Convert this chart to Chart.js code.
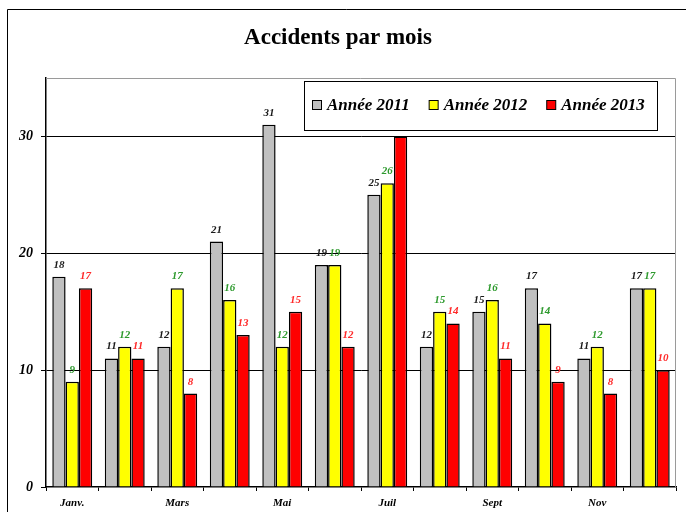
<!DOCTYPE html>
<html>
<head>
<meta charset="utf-8">
<script src="https://cdn.jsdelivr.net/npm/chart.js@4/dist/chart.umd.min.js"></script>
<style>
  html, body { margin: 0; padding: 0; background: #fff; }
  #c { display: block; }
</style>
</head>
<body>
<canvas id="c" width="686" height="512"></canvas>
<script>
const months = ['Janv.', 'Févr.', 'Mars', 'Avr.', 'Mai', 'Juin', 'Juil', 'Août', 'Sept', 'Oct', 'Nov', 'Déc.'];
const seriesNames = ['Année 2011', 'Année 2012', 'Année 2013'];
const values2011 = [18, 11, 12, 21, 31, 19, 25, 12, 15, 17, 11, 17];
const values2012 = [9, 12, 17, 16, 12, 19, 26, 15, 16, 14, 12, 17];
const values2013 = [17, 11, 8, 13, 15, 12, 30, 14, 11, 9, 8, 10];
const yTicks = [0, 10, 20, 30];

const FONT = "'Liberation Serif', 'Times New Roman', serif";
const fillColors = ['#c0c0c0', '#ffff00', '#ff0000'];
const labelColors = ['#1a1a1a', '#2e9a2e', '#ff2a2a'];

const framePlugin = {
  id: 'frame',
  beforeDraw(chart) {
    const ctx = chart.ctx;
    ctx.save();
    ctx.fillStyle = '#fff';
    ctx.fillRect(0, 0, chart.width, chart.height);
    ctx.strokeStyle = '#000';
    ctx.lineWidth = 1;
    ctx.beginPath();
    ctx.moveTo(7.5, chart.height);
    ctx.lineTo(7.5, 9.5);
    ctx.lineTo(chart.width, 9.5);
    ctx.stroke();
    ctx.restore();
  },
  beforeDatasetsDraw(chart) {
    const a = chart.chartArea;
    const ctx = chart.ctx;
    ctx.save();
    ctx.strokeStyle = '#9a9a9a';
    ctx.lineWidth = 1;
    ctx.beginPath();
    ctx.moveTo(a.left, a.top + 0.5);
    ctx.lineTo(a.right - 0.5, a.top + 0.5);
    ctx.lineTo(a.right - 0.5, a.bottom);
    ctx.stroke();
    ctx.restore();
  }
};

const valueLabelPlugin = {
  id: 'valueLabels',
  afterDatasetsDraw(chart) {
    const ctx = chart.ctx;
    ctx.save();
    ctx.font = 'italic bold 11px ' + FONT;
    ctx.textAlign = 'center';
    ctx.textBaseline = 'alphabetic';
    chart.data.datasets.forEach((ds, di) => {
      const meta = chart.getDatasetMeta(di);
      ctx.fillStyle = labelColors[di];
      meta.data.forEach((bar, i) => {
        ctx.fillText(String(ds.data[i]), bar.x, bar.y - 9);
      });
    });
    ctx.restore();
  }
};

const legendBoxPlugin = {
  id: 'legendBox',
  afterDraw(chart) {
    const ctx = chart.ctx;
    ctx.save();
    const bx = 304.5, by = 81.5, bw = 353, bh = 49;
    ctx.fillStyle = '#fff';
    ctx.fillRect(bx, by, bw, bh);
    ctx.strokeStyle = '#000';
    ctx.lineWidth = 1;
    ctx.strokeRect(bx, by, bw, bh);
    ctx.font = 'italic bold 17px ' + FONT;
    ctx.textBaseline = 'middle';
    ctx.textAlign = 'left';
    let x = 312;
    const cy = 106;
    chart.data.datasets.forEach((ds) => {
      ctx.fillStyle = ds.backgroundColor;
      ctx.fillRect(x + 0.5, cy - 5.5, 9, 9);
      ctx.strokeStyle = '#000';
      ctx.strokeRect(x + 0.5, cy - 5.5, 9, 9);
      ctx.fillStyle = '#000';
      ctx.fillText(ds.label, x + 15, cy);
      x += 15 + ctx.measureText(ds.label).width + 19;
    });
    ctx.restore();
  }
};

const allValues = [values2011, values2012, values2013];
const datasets = allValues.map((vals, i) => ({
  label: seriesNames[i],
  data: vals,
  backgroundColor: fillColors[i],
  borderColor: '#000',
  borderWidth: 1.5,
  borderSkipped: 'start',
  categoryPercentage: 0.76,
  barPercentage: 1.0
}));

new Chart(document.getElementById('c'), {
  type: 'bar',
  data: { labels: months, datasets },
  options: {
    responsive: false,
    animation: false,
    devicePixelRatio: 1,
    layout: { padding: { left: 0, right: 10, top: 0, bottom: 0 } },
    plugins: {
      legend: { display: false },
      tooltip: { enabled: false },
      title: {
        display: true,
        text: 'Accidents par mois',
        color: '#000',
        font: { family: FONT, size: 23, weight: 'bold' },
        padding: { top: 24, bottom: 26.4 }
      }
    },
    scales: {
      x: {
        offset: true,
        grid: {
          offset: true,
          drawOnChartArea: false,
          drawTicks: true,
          tickLength: 4,
          color: '#000',
          lineWidth: 1
        },
        border: { display: true, color: '#000', width: 1.5 },
        ticks: {
          autoSkip: false,
          maxRotation: 0,
          padding: 6,
          color: '#000',
          font: { family: FONT, size: 11, style: 'italic', weight: 'bold' },
          callback: function (value, index) {
            return index % 2 === 0 ? this.getLabelForValue(value) : '';
          }
        },
        afterFit(scale) { scale.height = 25; }
      },
      y: {
        min: 0,
        max: 35,
        bounds: 'data',
        grid: {
          color: (c) => (c.tick && c.tick.value === 0 ? 'rgba(0,0,0,0)' : '#000'),
          lineWidth: 1,
          tickLength: 5,
          tickColor: '#000'
        },
        border: { display: true, color: '#000', width: 1.5 },
        afterBuildTicks(scale) {
          scale.ticks = yTicks.map(v => ({ value: v }));
        },
        ticks: {
          padding: 8,
          color: '#000',
          font: { family: FONT, size: 14, style: 'italic', weight: 'bold' }
        },
        afterFit(scale) { scale.width = 46; }
      }
    }
  },
  plugins: [framePlugin, valueLabelPlugin, legendBoxPlugin]
});
</script>
</body>
</html>
